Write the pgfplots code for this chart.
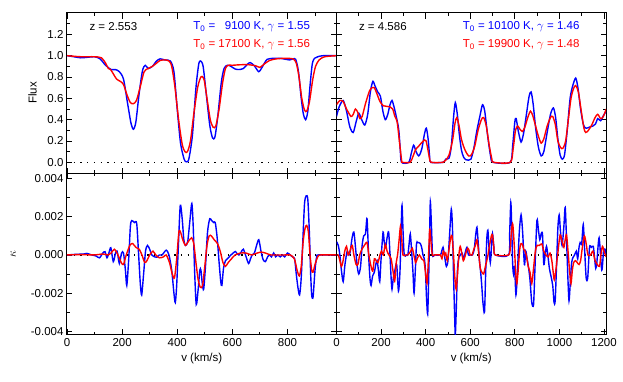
\documentclass[border=0pt]{standalone}
\usepackage{fontspec}
\setmainfont{Liberation Sans}
\usepackage{pgfplots}
\pgfplotsset{compat=1.18}
\usepgfplotslibrary{groupplots}
\definecolor{pblue}{RGB}{0,0,255}
\definecolor{pred}{RGB}{255,0,0}
\newcommand{\fs}{\fontsize{11.5}{13}\selectfont}
\begin{document}
\begin{tikzpicture}
\begin{groupplot}[
  group style={group size=2 by 2, horizontal sep=0pt, vertical sep=0pt},
  scale only axis, width=269.5pt,
  axis line style={line width=1pt},
  tick style={black, line width=0.8pt},
  major tick length=5.5pt, minor tick length=3pt,
  tick align=inside,
  scaled y ticks=false, scaled x ticks=false,
  tick label style={font=\fs},
  label style={font=\fs},
  every axis plot/.append style={line width=1.4pt, smooth, tension=0.45},
  clip=true,
]
% ---------------- top left
\nextgroupplot[height=160pt, xmin=0, xmax=978, ymin=-0.1, ymax=1.4,
  xtick={0,200,400,600,800}, minor xtick={100,300,500,700,900}, xticklabels={},
  ytick={0,0.2,0.4,0.6,0.8,1.0,1.2}, yticklabels={0.0,0.2,0.4,0.6,0.8,1.0,1.2},
  minor ytick={-0.1,0.1,0.3,0.5,0.7,0.9,1.1,1.3},
  ylabel={Flux}, ylabel shift=4pt]
\addplot[black, line width=1.3pt, dash pattern=on 1.3pt off 5.4pt, sharp plot] coordinates {(0,0) (978,0)};
\addplot[pblue] coordinates {(0,1.00)(25,0.99)(50,0.98)(75,0.985)(100,0.99)(120,0.97)(140,0.91)(160,0.87)(175,0.87)(190,0.85)(205,0.78)(220,0.55)(232,0.37)(241,0.31)(250,0.38)(262,0.65)(274,0.86)(284,0.91)(295,0.88)(310,0.90)(325,0.95)(338,0.97)(355,0.96)(375,0.95)(388,0.85)(400,0.50)(412,0.18)(425,0.03)(433,0.005)(442,0.03)(455,0.25)(468,0.70)(478,0.92)(485,0.95)(494,0.90)(505,0.65)(518,0.35)(528,0.23)(537,0.24)(548,0.45)(560,0.75)(570,0.88)(582,0.91)(595,0.90)(610,0.875)(625,0.87)(640,0.88)(655,0.92)(665,0.935)(680,0.905)(696,0.85)(710,0.90)(726,0.965)(750,0.975)(775,0.975)(795,0.965)(808,0.96)(820,0.97)(830,0.965)(840,0.85)(850,0.60)(858,0.45)(866,0.40)(874,0.48)(882,0.72)(890,0.92)(898,0.975)(910,0.99)(930,1.0)(980,1.0)};
\addplot[pred] coordinates {(0,1.00)(50,0.99)(100,0.99)(125,0.98)(140,0.93)(150,0.88)(158,0.87)(168,0.83)(180,0.78)(193,0.76)(205,0.73)(218,0.63)(230,0.56)(241,0.55)(252,0.58)(265,0.70)(280,0.85)(295,0.88)(310,0.90)(325,0.93)(338,0.955)(355,0.96)(370,0.95)(380,0.90)(392,0.70)(405,0.40)(418,0.17)(428,0.10)(437,0.10)(448,0.20)(460,0.45)(474,0.70)(484,0.79)(490,0.805)(498,0.77)(508,0.60)(520,0.40)(530,0.33)(540,0.34)(552,0.50)(565,0.75)(575,0.88)(585,0.91)(600,0.91)(630,0.915)(660,0.915)(685,0.905)(700,0.89)(715,0.92)(735,0.955)(760,0.97)(790,0.975)(820,0.97)(832,0.93)(842,0.80)(852,0.60)(862,0.49)(870,0.48)(880,0.57)(892,0.78)(902,0.90)(915,0.96)(935,0.99)(980,1.0)};
\node[anchor=west, font=\fs] at ([xshift=19pt]rel axis cs:0,0.9125) {z = 2.553};
\node[anchor=east, text=pblue, font=\fs] at ([xshift=-23pt]rel axis cs:1,0.9125) {T\textsubscript{0} = \phantom{1}9100 K, $\gamma$ = 1.55};
\node[anchor=east, text=pred, font=\fs] at ([xshift=-23pt]rel axis cs:1,0.8) {T\textsubscript{0} = 17100 K, $\gamma$ = 1.56};
% ---------------- top right
\nextgroupplot[height=160pt, xmin=0, xmax=1209, ymin=-0.1, ymax=1.4,
  xtick={0,200,400,600,800,1000,1200}, minor xtick={100,300,500,700,900,1100}, xticklabels={},
  ytick={0,0.2,0.4,0.6,0.8,1.0,1.2}, yticklabels={},
  minor ytick={-0.1,0.1,0.3,0.5,0.7,0.9,1.1,1.3}]
\addplot[black, line width=1.3pt, dash pattern=on 1.3pt off 5.4pt, sharp plot] coordinates {(0,0) (1209,0)};
\addplot[pblue] coordinates {(0,0.43)(12,0.52)(30,0.58)(45,0.48)(60,0.33)(75,0.28)(88,0.38)(100,0.46)(113,0.40)(127,0.35)(140,0.45)(152,0.66)(163,0.76)(172,0.72)(185,0.66)(197,0.62)(208,0.48)(219,0.40)(230,0.45)(240,0.54)(249,0.58)(258,0.52)(268,0.43)(279,0.31)(286,0.12)(292,0.0)(324,0.0)(335,0.08)(346,0.16)(357,0.10)(369,0.06)(382,0.12)(395,0.27)(403,0.32)(411,0.22)(418,0.05)(423,0.0)(478,0.0)(490,0.03)(505,0.04)(515,0.15)(525,0.42)(533,0.56)(542,0.45)(550,0.28)(560,0.12)(570,0.05)(580,0.025)(592,0.02)(603,0.03)(615,0.12)(630,0.30)(645,0.45)(655,0.54)(665,0.48)(678,0.25)(692,0.05)(703,0.0)(779,0.0)(790,0.15)(800,0.38)(806,0.41)(815,0.30)(828,0.19)(840,0.28)(852,0.45)(864,0.62)(873,0.66)(882,0.55)(893,0.33)(905,0.15)(918,0.06)(930,0.10)(945,0.28)(960,0.45)(973,0.51)(983,0.42)(993,0.22)(1003,0.07)(1013,0.03)(1023,0.07)(1035,0.30)(1048,0.60)(1060,0.72)(1073,0.79)(1083,0.70)(1095,0.50)(1108,0.35)(1120,0.32)(1135,0.33)(1150,0.34)(1162,0.36)(1172,0.41)(1185,0.39)(1198,0.44)(1210,0.48)};
\addplot[pred] coordinates {(0,0.54)(15,0.58)(30,0.57)(45,0.50)(65,0.43)(75,0.45)(85,0.50)(95,0.47)(105,0.41)(115,0.43)(130,0.55)(148,0.67)(160,0.70)(170,0.70)(180,0.65)(195,0.57)(210,0.53)(225,0.525)(240,0.52)(252,0.50)(262,0.43)(272,0.38)(282,0.20)(292,0.02)(296,0.0)(330,0.0)(342,0.05)(355,0.12)(368,0.15)(380,0.18)(395,0.21)(402,0.20)(410,0.12)(418,0.03)(425,0.0)(478,0.0)(490,0.02)(505,0.07)(520,0.20)(532,0.37)(540,0.42)(550,0.34)(560,0.22)(570,0.15)(580,0.10)(593,0.06)(605,0.07)(620,0.15)(635,0.30)(650,0.40)(660,0.42)(672,0.34)(685,0.16)(697,0.03)(705,0.0)(779,0.0)(792,0.12)(803,0.30)(813,0.34)(823,0.31)(834,0.29)(845,0.33)(858,0.42)(870,0.48)(880,0.44)(892,0.35)(905,0.25)(918,0.18)(930,0.22)(945,0.34)(960,0.42)(970,0.43)(982,0.35)(993,0.20)(1005,0.14)(1015,0.13)(1028,0.20)(1040,0.40)(1052,0.60)(1063,0.69)(1073,0.72)(1085,0.66)(1098,0.48)(1110,0.32)(1118,0.28)(1130,0.30)(1145,0.35)(1160,0.42)(1172,0.45)(1185,0.41)(1197,0.43)(1210,0.50)};
\node[anchor=west, font=\fs] at ([xshift=19pt]rel axis cs:0,0.9125) {z = 4.586};
\node[anchor=east, text=pblue, font=\fs] at ([xshift=-23pt]rel axis cs:1,0.9125) {T\textsubscript{0} = 10100 K, $\gamma$ = 1.46};
\node[anchor=east, text=pred, font=\fs] at ([xshift=-23pt]rel axis cs:1,0.8) {T\textsubscript{0} = 19900 K, $\gamma$ = 1.48};
% ---------------- bottom left
\nextgroupplot[height=162pt, xmin=0, xmax=978, ymin=-0.0042, ymax=0.0043,
  xtick={0,200,400,600,800}, minor xtick={100,300,500,700,900}, xticklabels={0,200,400,600,800},
  ytick={-0.004,-0.002,0,0.002,0.004}, yticklabels={-0.004,-0.002,0.000,0.002,0.004},
  minor ytick={-0.003,-0.001,0.001,0.003},
  ylabel={$\kappa$}, ylabel shift=8pt, xlabel={v (km/s)}]
\addplot[black, line width=1.3pt, dash pattern=on 1.3pt off 5.4pt, sharp plot] coordinates {(0,0) (978,0)};
\addplot[pblue] coordinates {(0,0)(30,0.00003)(60,0.00005)(72,0.00008)(90,0.0)(105,-0.00005)(118,-0.00015)(130,0.0001)(138,0.00017)(145,-0.00015)(152,0.0001)(159,0.00038)(168,-0.00035)(176,0.0001)(182,0.0002)(190,-0.00045)(198,0.0001)(205,0.0001)(212,-0.0008)(217,-0.0016)(224,-0.0002)(230,0.0015)(235,0.0018)(245,0.0017)(253,0.00165)(260,0.0)(266,-0.0015)(271,-0.0021)(278,-0.001)(285,0.0002)(292,0.0005)(300,0.0003)(308,0.0)(318,-0.0001)(326,-0.00012)(335,0.0)(345,0.0)(360,0.00025)(370,0.0)(380,-0.0008)(388,-0.002)(393,-0.0025)(398,-0.0016)(404,0.0004)(411,0.0026)(418,0.0019)(424,0.0008)(430,0.0005)(438,0.0007)(446,0.0018)(453,0.0027)(458,0.0015)(463,-0.0008)(469,-0.0026)(476,-0.0018)(482,-0.0008)(486,-0.0008)(491,-0.0015)(496,-0.0018)(503,-0.0005)(510,0.0012)(518,0.0019)(525,0.0018)(532,0.0017)(538,0.0017)(545,0.0009)(552,-0.0004)(558,-0.0014)(562,-0.0016)(568,-0.0007)(575,-0.0003)(582,-0.0002)(595,0.0)(603,0.0001)(611,0.00018)(618,0.00005)(624,0.0)(632,0.00015)(640,0.0003)(650,-0.0001)(659,-0.00045)(666,-0.0002)(672,0.0)(680,0.0001)(688,0.0005)(696,0.0008)(704,0.0002)(712,-0.00025)(720,-0.00035)(728,-0.0001)(735,0.0)(742,-0.0001)(750,0.0001)(757,-0.0001)(765,0.0)(774,-0.0001)(782,0.0)(790,-0.0001)(800,0.0001)(810,0.0)(818,-0.0001)(826,-0.0002)(832,-0.001)(838,-0.0017)(844,-0.0021)(850,-0.0012)(856,0.0008)(862,0.0027)(868,0.0031)(874,0.0029)(880,0.001)(884,-0.0009)(888,-0.0021)(893,-0.0022)(900,-0.0008)(906,-0.0001)(912,0.0)(980,0.0)};
\addplot[pred] coordinates {(0,0)(50,0.00002)(100,0.0)(130,0.00005)(150,0.0)(160,0.0001)(172,0.0003)(185,0.0)(197,-0.0004)(205,-0.0005)(215,0.0)(228,0.0005)(238,0.0006)(250,0.0004)(262,0.0003)(272,0.0)(282,-0.0004)(290,-0.0003)(300,0.0)(312,0.0002)(322,0.0)(335,-0.00015)(350,-0.0001)(360,0.0)(372,-0.0004)(382,-0.001)(390,-0.0012)(398,-0.0002)(406,0.0012)(412,0.0012)(420,0.0008)(430,0.0005)(440,0.0007)(452,0.0009)(460,0.0006)(468,-0.0004)(476,-0.0013)(484,-0.0017)(492,-0.0016)(500,-0.0006)(508,0.0005)(516,0.0010)(524,0.0010)(534,0.0008)(546,0.0006)(556,0.0002)(566,-0.0004)(575,-0.0006)(585,-0.0004)(597,-0.0002)(610,0.0)(630,0.0001)(650,0.0001)(670,0.0)(690,0.0001)(705,0.00015)(720,0.0001)(740,0.0)(760,0.0)(790,0.0)(810,0.0)(825,-0.0002)(835,-0.0008)(843,-0.0011)(850,-0.0006)(857,0.0007)(864,0.0014)(870,0.00155)(876,0.0012)(882,0.0)(888,-0.0008)(893,-0.0009)(900,-0.0005)(910,-0.0001)(920,0.0)(980,0.0)};
% ---------------- bottom right
\nextgroupplot[height=162pt, xmin=0, xmax=1209, ymin=-0.0042, ymax=0.0043,
  xtick={0,200,400,600,800,1000,1200}, minor xtick={100,300,500,700,900,1100}, xticklabels={0,200,400,600,800,1000,1200},
  ytick={-0.004,-0.002,0,0.002,0.004}, yticklabels={},
  minor ytick={-0.003,-0.001,0.001,0.003},
  xlabel={v (km/s)}]
\addplot[black, line width=1.3pt, dash pattern=on 1.3pt off 5.4pt, sharp plot] coordinates {(0,0) (1209,0)};
\addplot[pblue] coordinates {(0,0.0007)(8,0.0005)(15,0.0)(22,-0.0008)(30,-0.0014)(38,-0.0005)(48,0.0002)(56,0.0)(62,0.0002)(70,0.0009)(78,0.0012)(86,0.0003)(93,-0.0006)(100,-0.001)(108,-0.0006)(115,0.0005)(122,0.0010)(130,0.0011)(137,0.0019)(144,0.0)(150,-0.0012)(155,-0.0016)(162,-0.0011)(170,-0.0009)(176,-0.0005)(182,-0.0003)(188,-0.0008)(194,-0.0014)(200,-0.0002)(209,0.0012)(214,0.0007)(220,0.0004)(227,0.0009)(234,0.0012)(240,0.0)(245,-0.0012)(249,-0.0018)(255,-0.0012)(262,-0.0008)(270,-0.0005)(278,-0.0019)(285,-0.0008)(290,0.0014)(294,0.0026)(299,0.0011)(304,0.0)(314,0.0)(320,0.0)(325,0.0005)(331,0.0011)(337,0.0002)(343,-0.0009)(348,-0.0020)(354,-0.0007)(359,0.0006)(364,0.00065)(370,0.00065)(376,0.0006)(382,0.0004)(388,0.0)(394,-0.0002)(399,-0.0008)(404,-0.0023)(409,-0.0031)(413,-0.0015)(418,0.0012)(421,0.0028)(426,0.0015)(431,0.0)(440,0.0)(466,0.0)(472,0.0002)(478,0.0004)(484,0.0)(488,-0.0003)(493,-0.0006)(500,-0.0003)(508,0.0012)(515,0.0024)(520,0.0015)(525,-0.0010)(530,-0.0032)(533,-0.0042)(537,-0.003)(543,-0.0007)(550,-0.0001)(556,0.0)(563,0.0001)(570,-0.0002)(577,0.0001)(585,0.0004)(592,0.0)(600,0.0)(610,0.0)(618,0.0003)(624,0.0010)(630,0.00145)(636,0.0006)(641,-0.0003)(645,-0.0007)(651,-0.0015)(657,-0.0025)(664,-0.003)(669,-0.001)(674,0.0008)(679,0.0013)(684,0.0004)(690,-0.0004)(695,0.0004)(700,0.0011)(706,0.0004)(712,0.0)(772,0.0)(777,0.0012)(782,0.00275)(786,0.0015)(790,-0.0004)(794,-0.001)(799,-0.0006)(805,-0.0021)(812,-0.0008)(820,0.0012)(828,0.0021)(835,0.0012)(843,-0.0005)(849,0.0002)(855,-0.0002)(862,-0.0007)(868,-0.0013)(876,-0.0025)(884,-0.0026)(890,-0.0008)(899,0.0018)(906,0.0013)(912,0.0008)(918,0.0011)(924,0.0011)(930,-0.0005)(936,0.0)(942,0.00045)(948,0.0)(955,-0.0007)(962,-0.0011)(970,-0.0016)(976,-0.0025)(981,-0.0024)(987,-0.0006)(993,0.0014)(999,0.0021)(1005,0.0012)(1012,0.0005)(1020,0.0015)(1026,0.0025)(1032,0.0008)(1038,-0.0012)(1043,-0.0024)(1048,-0.0016)(1054,-0.0005)(1060,-0.00015)(1068,0.0)(1076,0.0002)(1082,-0.0002)(1088,0.0004)(1093,0.00065)(1100,0.0006)(1107,0.0016)(1113,0.0003)(1120,-0.0012)(1127,-0.0012)(1135,0.0004)(1143,0.0004)(1152,0.00045)(1158,-0.0002)(1163,-0.0007)(1168,-0.0004)(1178,0.0009)(1190,-0.0008)(1198,0.0002)(1205,0.0003)(1210,0.0)};
\addplot[pred] coordinates {(0,0.0)(8,0.0)(15,-0.0003)(22,-0.0006)(28,-0.0004)(37,0.0002)(45,0.00045)(52,0.0)(58,0.0001)(65,0.0004)(71,0.0005)(78,0.0)(88,-0.0005)(96,-0.0005)(104,0.0)(114,0.0003)(125,0.0005)(137,0.00065)(145,0.0)(155,-0.0006)(163,-0.00085)(170,-0.0002)(178,-0.0003)(186,-0.0004)(195,0.0)(202,0.0002)(210,0.0)(219,0.00055)(227,0.0002)(235,0.0)(245,-0.0002)(253,-0.0008)(261,-0.00137)(268,-0.0004)(274,0.0)(281,0.0008)(287,0.0015)(293,0.0008)(298,0.0)(310,0.0)(320,0.0)(333,0.0002)(340,0.00035)(347,0.0)(355,-0.0004)(362,-0.0002)(372,0.0)(382,-0.0002)(392,-0.0003)(398,-0.0008)(406,-0.0015)(412,-0.0003)(418,0.00135)(423,0.0008)(430,0.0)(440,0.0)(466,0.0)(473,-0.0002)(479,0.0002)(485,0.0)(490,0.0001)(497,-0.0003)(505,0.0003)(512,0.0009)(518,0.001)(525,0.0)(531,-0.0012)(537,-0.0018)(543,-0.001)(549,0.0)(555,0.00045)(562,0.0001)(569,-0.0003)(577,-0.00005)(583,0.0002)(589,0.00035)(593,0.0003)(600,0.0)(608,0.0)(616,0.0003)(623,0.0005)(630,0.0008)(637,0.0002)(645,-0.0007)(652,-0.0009)(660,-0.001)(668,-0.0006)(678,-0.0001)(688,0.0006)(695,0.001)(700,0.00105)(706,0.0004)(712,0.0)(772,0.0)(780,0.0005)(786,0.0014)(791,0.0016)(798,0.0004)(804,-0.0009)(809,-0.0015)(815,-0.0008)(822,0.0003)(828,0.0006)(834,0.00055)(840,0.0003)(846,0.0002)(853,-0.0001)(860,-0.0006)(868,-0.0009)(876,-0.0015)(884,-0.0007)(892,0.0002)(900,0.0005)(910,0.0005)(921,0.00058)(930,0.0002)(940,0.0)(950,-0.0001)(958,0.0001)(966,-0.0003)(972,-0.0009)(977,-0.0013)(984,-0.0008)(992,0.0)(1003,0.00105)(1012,0.0007)(1020,0.0004)(1026,0.0008)(1032,0.00105)(1040,0.0)(1046,-0.0009)(1052,-0.0015)(1058,-0.0008)(1064,-0.0004)(1072,-0.0003)(1080,-0.0004)(1088,-0.0005)(1095,-0.0003)(1103,0.0004)(1112,0.001)(1120,0.0006)(1128,0.0)(1140,0.0)(1150,0.0002)(1160,-0.0003)(1170,-0.0005)(1180,-0.0006)(1186,0.0)(1193,0.00045)(1200,0.0002)(1206,0.0)(1210,-0.0001)};
\end{groupplot}
\pgfresetboundingbox
\path[use as bounding box] ([xshift=-67pt,yshift=13pt]group c1r1.north west) rectangle ([xshift=17pt,yshift=-47pt]group c2r2.south east);
\end{tikzpicture}
\end{document}
